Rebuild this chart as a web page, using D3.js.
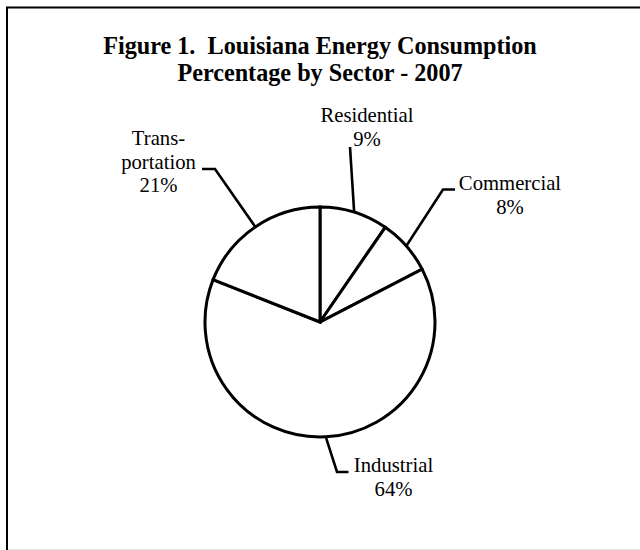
<!DOCTYPE html>
<html>
<head>
<meta charset="utf-8">
<script src="https://cdn.jsdelivr.net/npm/d3@7"></script>
<style>
  html, body { margin: 0; padding: 0; background: #fff; }
  svg { display: block; }
  text { font-family: "Liberation Serif", "Times New Roman", serif; fill: #000; }
</style>
</head>
<body>
<svg id="chart" width="640" height="550"></svg>
<script>
// ---- data ----
const categories = ["Residential", "Commercial", "Industrial", "Transportation"];
const values = [9.6, 7.8, 63.6, 19.0];          // slice sizes
const pctLabels = ["9%", "8%", "64%", "21%"];   // percentages as printed
const labelLines = [["Residential"], ["Commercial"], ["Industrial"], ["Trans-", "portation"]];
const titleLines = ["Figure 1.  Louisiana Energy Consumption", "Percentage by Sector - 2007"];

// ---- layout ----
const W = 640, H = 550;
const cx = 320, cy = 322, R = 115;
const fontSize = 20.7, lineH = 23.6;
// label block: text centre x, first baseline y, leader elbow points (relative to page)
const labelLayout = [
  { x: 367,   y: 122,   leader: [[350, 147]] },
  { x: 510,   y: 190,   leader: [[443, 189.5], [455, 189.5]] },
  { x: 393.5, y: 472,   leader: [[337, 472], [348.5, 472]] },
  { x: 158.5, y: 145,   leader: [[215, 169], [202, 169]] }
];

const svg = d3.select("#chart");
svg.append("rect").attr("x", 0).attr("y", 0).attr("width", W).attr("height", H).attr("fill", "#fff");

// frame
svg.append("rect")
  .attr("x", 7).attr("y", 7.5).attr("width", W + 20).attr("height", H + 20)
  .attr("fill", "none").attr("stroke", "#000").attr("stroke-width", 2);
svg.append("line").attr("x1", 8).attr("x2", W).attr("y1", 549.5).attr("y2", 549.5)
  .attr("stroke", "#e6e6e6").attr("stroke-width", 1);

// title
const title = svg.append("text")
  .attr("text-anchor", "middle")
  .attr("font-weight", "bold")
  .attr("font-size", 24.2)
  .attr("xml:space", "preserve")
  .style("white-space", "pre");
titleLines.forEach((t, i) => {
  title.append("tspan").attr("x", cx).attr("y", 53.8 + i * 27).text(t);
});

// pie
const pie = d3.pie().sort(null).value(d => d)(values);
const arc = d3.arc().innerRadius(0).outerRadius(R);
const edge = d3.arc().innerRadius(R).outerRadius(R);

const g = svg.append("g").attr("transform", `translate(${cx},${cy})`);
g.selectAll("path.slice")
  .data(pie)
  .join("path")
  .attr("class", "slice")
  .attr("d", arc)
  .attr("fill", "#fff")
  .attr("stroke", "#000")
  .attr("stroke-width", 3)
  .attr("stroke-linejoin", "miter");

// leader lines
const line = d3.line();
pie.forEach((p, i) => {
  const c = edge.centroid(p);
  const pts = [[cx + c[0], cy + c[1]]].concat(labelLayout[i].leader);
  svg.append("path")
    .attr("d", line(pts))
    .attr("fill", "none")
    .attr("stroke", "#000")
    .attr("stroke-width", 2.6)
    .attr("stroke-linejoin", "miter");
});

// labels
categories.forEach((c, i) => {
  const L = labelLayout[i];
  const t = svg.append("text")
    .attr("text-anchor", "middle")
    .attr("font-size", fontSize);
  const lines = labelLines[i].concat([pctLabels[i]]);
  lines.forEach((s, k) => {
    t.append("tspan").attr("x", L.x).attr("y", L.y + k * lineH).text(s);
  });
});
</script>
</body>
</html>
